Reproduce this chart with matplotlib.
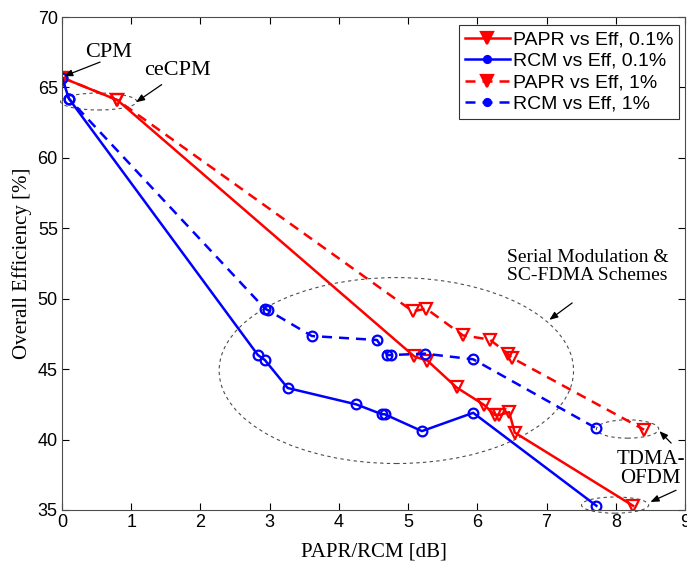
import numpy as np
import matplotlib
matplotlib.use("Agg")
import matplotlib.pyplot as plt
from matplotlib.patches import Ellipse

# PAPR / RCM (dB) vs overall efficiency (%)
papr_01_x = [0, 0.8, 5.09, 5.28, 5.70, 6.10, 6.25, 6.32, 6.46, 6.54, 8.25]
papr_01_y = [65.7, 64.1, 45.9, 45.6, 43.7, 42.45, 41.75, 41.75, 41.95, 40.5, 35.3]

rcm_01_x = [0, 0.1, 2.83, 2.93, 3.26, 4.25, 4.62, 4.66, 5.2, 5.94, 7.72]
rcm_01_y = [65.7, 64.2, 46.0, 45.65, 43.66, 42.5, 41.8, 41.8, 40.6, 41.9, 35.3]

papr_1_x = [0, 0.8, 5.07, 5.26, 5.79, 6.18, 6.44, 6.5, 8.41]
papr_1_y = [65.7, 64.1, 49.1, 49.3, 47.4, 47.1, 46.1, 45.8, 40.7]

rcm_1_x = [0, 0.1, 2.93, 2.97, 3.61, 4.55, 4.70, 4.75, 5.24, 5.94, 7.72]
rcm_1_y = [65.7, 64.2, 49.3, 49.2, 47.35, 47.07, 46.0, 46.0, 46.1, 45.7, 40.8]

labels = ["PAPR vs Eff, 0.1%", "RCM vs Eff, 0.1%", "PAPR vs Eff, 1%", "RCM vs Eff, 1%"]

serif = ["Liberation Serif", "DejaVu Serif"]
sans = ["Liberation Sans", "DejaVu Sans"]

fig = plt.figure(figsize=(6.87, 5.67), dpi=100)
ax = fig.add_axes([62 / 687, 57 / 567, 623 / 687, 493 / 567])

lw = 1.8
dash = (4, 2.8)
tri = dict(marker="v", markersize=8.5, markerfacecolor="none", markeredgewidth=1.6)
circ = dict(marker="o", markersize=7, markerfacecolor="none", markeredgewidth=1.6)

ax.plot(papr_01_x, papr_01_y, color="red", lw=lw, label=labels[0], **tri)
ax.plot(rcm_01_x, rcm_01_y, color="blue", lw=lw, label=labels[1], **circ)
ax.plot(papr_1_x, papr_1_y, color="red", lw=lw, ls="--", dashes=dash, label=labels[2], **tri)
ax.plot(rcm_1_x, rcm_1_y, color="blue", lw=lw, ls="--", dashes=dash, label=labels[3], **circ)

# dashed ellipses grouping the schemes
ell = dict(fill=False, edgecolor="0.3", lw=0.8, ls=(0, (3, 3)), clip_on=False)
ax.add_patch(Ellipse((0.53, 64.0), 1.1, 1.2, **ell))
ax.add_patch(Ellipse((4.83, 44.9), 5.12, 13.2, **ell))
ax.add_patch(Ellipse((8.17, 40.75), 0.9, 1.3, **ell))
ax.add_patch(Ellipse((7.99, 35.35), 0.97, 1.15, **ell))

arr = dict(arrowstyle="-|>,head_length=0.5,head_width=0.2", color="black", lw=0.9, shrinkA=0, shrinkB=0)
ax.annotate("", xy=(0.03, 65.8), xytext=(0.55, 66.8), arrowprops=arr)
ax.annotate("", xy=(1.07, 63.95), xytext=(1.44, 65.2), arrowprops=arr)
ax.annotate("", xy=(7.04, 48.5), xytext=(7.37, 49.7), arrowprops=arr, annotation_clip=False)
ax.annotate("", xy=(8.63, 40.6), xytext=(8.8, 39.75), arrowprops=arr, annotation_clip=False)
ax.annotate("", xy=(8.5, 35.57), xytext=(8.87, 36.4), arrowprops=arr, annotation_clip=False)

ax.text(0.33, 67.5, "CPM", family=serif, fontsize=16, va="center", ha="left")
ax.text(1.18, 66.2, "ceCPM", family=serif, fontsize=16, va="center", ha="left")
ax.text(7.59, 52.3, "Serial Modulation &\nSC-FDMA Schemes", family=serif, fontsize=14,
        va="center", ha="center", linespacing=1.12)
ax.text(8.5, 37.9, "TDMA-\nOFDM", family=serif, fontsize=15, va="center", ha="center",
        linespacing=1.0)

ax.set_xlim(0, 9)
ax.set_ylim(35, 70)
ax.set_xticks(np.arange(0, 10, 1))
ax.set_yticks(np.arange(35, 75, 5))
ax.tick_params(direction="in", top=True, right=True, length=5, width=0.8, labelsize=13, pad=3)
for t in ax.get_xticklabels() + ax.get_yticklabels():
    t.set_family(sans)
for s in ax.spines.values():
    s.set_linewidth(0.8)
    s.set_color("0.3")

ax.set_xlabel("PAPR/RCM [dB]", family=serif, fontsize=15, labelpad=8)
ax.set_ylabel("Overall Efficiency [%]", family=serif, fontsize=15, labelpad=4)

leg = ax.legend(loc="upper right", bbox_to_anchor=(0.9904, 0.9838), borderaxespad=0,
                prop={"family": sans, "size": 14}, handlelength=2.3, handletextpad=0.15,
                labelspacing=0.2, borderpad=0.3, fancybox=False, framealpha=1)
leg.get_frame().set_edgecolor("0.2")
leg.get_frame().set_linewidth(0.8)
# small solid markers in the legend keys
for h, ms in zip(leg.legend_handles, [8, 5, 8, 5]):
    h.set_markersize(ms)
    h.set_markerfacecolor(h.get_color())

fig.savefig("out.png", dpi=100)
